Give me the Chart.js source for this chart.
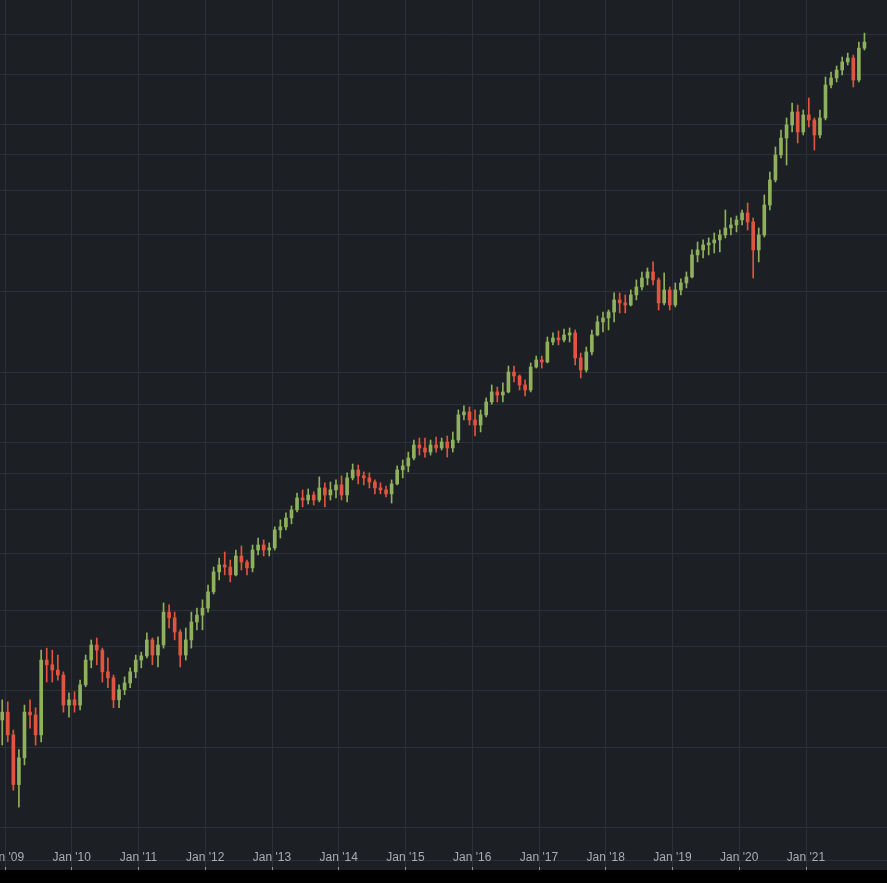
<!DOCTYPE html>
<html>
<head>
<meta charset="utf-8">
<script src="https://cdn.jsdelivr.net/npm/chart.js@4.4.1/dist/chart.umd.min.js"></script>
<style>
    html, body { margin: 0; padding: 0; background: #000; }
    #wrap { width: 887px; height: 870px; background: #1c1f24; }
</style>
</head>
<body>
<div id="wrap"><canvas id="grafico"></canvas></div>
<script>
// monthly candles (log price scale)
const months = ['2008-12',
    '2009-01', '2009-02', '2009-03', '2009-04', '2009-05', '2009-06', '2009-07', '2009-08', '2009-09', '2009-10', '2009-11', '2009-12',
    '2010-01', '2010-02', '2010-03', '2010-04', '2010-05', '2010-06', '2010-07', '2010-08', '2010-09', '2010-10', '2010-11', '2010-12',
    '2011-01', '2011-02', '2011-03', '2011-04', '2011-05', '2011-06', '2011-07', '2011-08', '2011-09', '2011-10', '2011-11', '2011-12',
    '2012-01', '2012-02', '2012-03', '2012-04', '2012-05', '2012-06', '2012-07', '2012-08', '2012-09', '2012-10', '2012-11', '2012-12',
    '2013-01', '2013-02', '2013-03', '2013-04', '2013-05', '2013-06', '2013-07', '2013-08', '2013-09', '2013-10', '2013-11', '2013-12',
    '2014-01', '2014-02', '2014-03', '2014-04', '2014-05', '2014-06', '2014-07', '2014-08', '2014-09', '2014-10', '2014-11', '2014-12',
    '2015-01', '2015-02', '2015-03', '2015-04', '2015-05', '2015-06', '2015-07', '2015-08', '2015-09', '2015-10', '2015-11', '2015-12',
    '2016-01', '2016-02', '2016-03', '2016-04', '2016-05', '2016-06', '2016-07', '2016-08', '2016-09', '2016-10', '2016-11', '2016-12',
    '2017-01', '2017-02', '2017-03', '2017-04', '2017-05', '2017-06', '2017-07', '2017-08', '2017-09', '2017-10', '2017-11', '2017-12',
    '2018-01', '2018-02', '2018-03', '2018-04', '2018-05', '2018-06', '2018-07', '2018-08', '2018-09', '2018-10', '2018-11', '2018-12',
    '2019-01', '2019-02', '2019-03', '2019-04', '2019-05', '2019-06', '2019-07', '2019-08', '2019-09', '2019-10', '2019-11', '2019-12',
    '2020-01', '2020-02', '2020-03', '2020-04', '2020-05', '2020-06', '2020-07', '2020-08', '2020-09', '2020-10', '2020-11', '2020-12',
    '2021-01', '2021-02', '2021-03', '2021-04', '2021-05', '2021-06', '2021-07', '2021-08', '2021-09', '2021-10', '2021-11'];

const opens = [34.5,
    35.9, 32.0, 24.9, 28.5, 35.9, 35.4, 32.0, 46.7, 45.6, 44.4, 43.3, 37.2,
    38.2, 37.2, 41.2, 46.7, 50.4, 49.1, 44.0, 42.7, 38.2, 40.2, 41.6, 44.0,
    46.7, 47.7, 51.7, 47.9, 50.4, 59.5, 57.8, 53.8, 47.9, 51.7, 56.6, 58.6,
    60.7, 65.9, 72.9, 75.5, 74.7, 71.8, 79.0, 76.6, 74.4, 81.4, 83.5, 81.4,
    82.3, 90.1, 91.5, 95.7, 99.7, 105.9, 104.8, 107.5, 104.8, 111.4, 107.5, 110.3,
    113.1, 107.5, 117.2, 122.0, 118.4, 117.2, 114.8, 111.4, 110.3, 108.1, 113.7, 122.0,
    124.5, 129.6, 138.4, 136.3, 133.5, 138.4, 136.3, 140.5, 136.3, 141.9, 161.1, 163.5,
    157.0, 153.1, 161.1, 172.0, 180.9, 178.1, 180.9, 200.0, 196.1, 187.4, 182.7, 205.2,
    212.6, 210.5, 232.8, 237.6, 235.2, 241.2, 243.7, 214.8, 202.1, 221.4, 241.2, 257.6,
    262.8, 270.9, 287.9, 283.6, 280.7, 295.3, 307.4, 321.7, 331.6, 318.5, 283.6, 302.8,
    280.7, 302.8, 313.7, 323.3, 361.4, 370.6, 380.1, 384.0, 389.8, 399.7, 414.1, 420.4,
    431.2, 446.7, 426.9, 370.6, 399.7, 465.1, 527.7, 598.7, 652.3, 696.7, 744.0, 672.5,
    732.8, 714.5, 662.4, 721.8, 852.6, 883.3, 919.7, 957.6, 977.1, 874.4, 1027];

const highs = [38.2,
    37.8, 32.8, 29.7, 37.2, 38.2, 36.7, 49.1, 49.6, 49.1, 47.9, 44.0, 39.6,
    39.8, 42.2, 47.9, 51.7, 52.2, 49.6, 47.2, 43.3, 41.2, 42.9, 44.9, 47.9,
    48.6, 53.6, 52.2, 52.5, 62.3, 61.7, 59.5, 54.4, 54.9, 59.5, 60.7, 63.3,
    68.2, 74.7, 78.2, 80.6, 77.4, 81.4, 83.1, 77.4, 83.5, 86.5, 85.7, 84.4,
    91.5, 94.8, 98.2, 101.7, 108.6, 110.3, 110.8, 109.2, 117.8, 114.3, 114.8, 116.0,
    118.4, 120.2, 125.7, 125.1, 120.8, 120.2, 116.0, 114.3, 112.5, 116.0, 124.5, 128.3,
    133.5, 141.9, 143.3, 143.3, 141.9, 144.0, 143.3, 144.8, 147.8, 165.2, 168.6, 167.7,
    165.2, 165.2, 175.5, 187.4, 185.5, 189.3, 206.2, 206.2, 197.1, 192.2, 209.4, 216.9,
    216.9, 238.8, 243.7, 246.2, 248.6, 249.9, 247.4, 220.2, 227.0, 247.4, 265.5, 270.9,
    273.7, 298.3, 298.3, 295.3, 302.8, 318.5, 331.6, 338.4, 348.8, 321.7, 330.0, 307.4,
    313.7, 320.1, 331.6, 370.6, 385.9, 389.8, 393.8, 403.7, 409.9, 453.5, 435.6, 440.0,
    453.5, 469.8, 435.6, 414.1, 489.2, 549.4, 623.4, 679.3, 721.8, 778.5, 770.7, 751.5,
    798.4, 721.8, 751.5, 887.7, 910.5, 938.5, 982.1, 1002, 991.6, 1059, 1108];

const lows = [30.4,
    30.9, 24.2, 22.2, 27.5, 33.1, 30.4, 30.9, 41.8, 41.8, 42.2, 35.9, 35.0,
    35.9, 36.3, 40.8, 44.9, 45.6, 41.8, 40.6, 36.7, 36.7, 39.2, 40.6, 42.7,
    44.9, 47.2, 45.6, 45.1, 49.6, 54.9, 51.7, 45.1, 46.7, 49.6, 54.4, 54.4,
    59.5, 65.2, 70.0, 71.8, 69.3, 71.4, 73.6, 71.8, 72.9, 79.4, 79.0, 79.0,
    81.4, 86.5, 90.1, 92.9, 98.7, 101.2, 102.7, 102.2, 103.8, 101.2, 104.8, 105.9,
    104.8, 103.8, 116.0, 113.7, 113.1, 111.4, 108.1, 108.1, 106.4, 103.2, 113.1, 117.2,
    120.8, 128.3, 131.5, 130.2, 131.5, 133.5, 134.9, 130.2, 133.5, 140.0, 157.0, 153.1,
    144.8, 147.8, 159.4, 170.0, 172.0, 172.0, 180.0, 190.3, 182.7, 177.2, 180.9, 204.1,
    204.1, 209.4, 229.3, 229.3, 232.8, 232.8, 207.3, 194.1, 200.0, 218.0, 240.0, 244.9,
    247.4, 257.6, 269.6, 269.6, 279.3, 287.9, 302.8, 310.6, 310.6, 273.7, 280.7, 273.7,
    277.9, 295.3, 305.9, 321.7, 348.8, 355.9, 361.4, 365.0, 366.9, 393.8, 399.7, 405.8,
    420.4, 409.9, 321.7, 348.8, 395.7, 453.5, 522.4, 589.7, 569.2, 672.5, 636.1, 662.4,
    689.6, 614.0, 652.3, 714.5, 839.7, 865.6, 896.8, 943.2, 844.0, 865.6, 1017];

const closes = [35.9,
    32.0, 24.9, 28.5, 35.9, 35.4, 32.0, 46.7, 45.6, 44.4, 43.3, 37.2, 38.2,
    37.2, 41.2, 46.7, 50.4, 49.1, 44.0, 42.7, 38.2, 40.2, 41.6, 44.0, 46.7,
    47.7, 51.7, 47.9, 50.4, 59.5, 57.8, 53.8, 47.9, 51.7, 56.6, 58.6, 60.7,
    65.9, 72.9, 75.5, 74.7, 71.8, 79.0, 76.6, 74.4, 81.4, 83.5, 81.4, 82.3,
    90.1, 91.5, 95.7, 99.7, 105.9, 104.8, 107.5, 104.8, 111.4, 107.5, 110.3, 113.1,
    107.5, 117.2, 122.0, 118.4, 117.2, 114.8, 111.4, 110.3, 108.1, 113.7, 122.0, 124.5,
    129.6, 138.4, 136.3, 133.5, 138.4, 136.3, 140.5, 136.3, 141.9, 161.1, 163.5, 157.0,
    153.1, 161.1, 172.0, 180.9, 178.1, 180.9, 200.0, 196.1, 187.4, 182.7, 205.2, 212.6,
    210.5, 232.8, 237.6, 235.2, 241.2, 243.7, 214.8, 202.1, 221.4, 241.2, 257.6, 262.8,
    270.9, 287.9, 283.6, 280.7, 295.3, 307.4, 321.7, 331.6, 318.5, 283.6, 302.8, 280.7,
    302.8, 313.7, 323.3, 361.4, 370.6, 380.1, 384.0, 389.8, 399.7, 414.1, 420.4, 431.2,
    446.7, 426.9, 370.6, 399.7, 465.1, 527.7, 598.7, 652.3, 696.7, 744.0, 672.5, 732.8,
    714.5, 662.4, 721.8, 852.6, 883.3, 919.7, 957.6, 977.1, 874.4, 1027, 1059];

const yearTicks = [2009, 2010, 2011, 2012, 2013, 2014, 2015, 2016, 2017, 2018, 2019, 2020, 2021];
const tickLabels = ["Jan '09", "Jan '10", "Jan '11", "Jan '12", "Jan '13", "Jan '14", "Jan '15",
    "Jan '16", "Jan '17", "Jan '18", "Jan '19", "Jan '20", "Jan '21"];
const gridLevels = [17, 20, 30, 40, 50, 60, 80, 100, 120, 140, 170, 200, 300, 400, 500, 600, 700, 900, 1100];

const upColor = '#8fb05c';
const downColor = '#e0553f';
const gridColor = '#2c3037';

function monthToX(m) {
    const parts = m.split('-').map(Number);
    return parts[0] + (parts[1] - 0.5) / 12;
}

const xs = months.map(monthToX);
const colors = closes.map((c, i) => c >= opens[i] ? upColor : downColor);

// time labels sit inside the pane, just above the bottom edge
const timeLabels = {
    id: 'timeLabels',
    afterDraw(chart) {
        const c = chart.ctx;
        const xScale = chart.scales.x;
        c.save();
        c.font = '12px "Liberation Sans", Arial, sans-serif';
        c.fillStyle = '#a9acb2';
        c.textAlign = 'center';
        c.textBaseline = 'middle';
        yearTicks.forEach((v, i) => {
            c.fillText(tickLabels[i], xScale.getPixelForValue(v), chart.chartArea.bottom - 9);
        });
        c.restore();
    }
};

const ctx = document.getElementById('grafico');

new Chart(ctx, {
    type: 'bar',
    data: {
        datasets: [
            {
                data: xs.map((x, i) => ({ x: x, y: [lows[i], highs[i]] })),
                backgroundColor: colors,
                barThickness: 1,
                grouped: false,
                order: 2
            },
            {
                data: xs.map((x, i) => ({ x: x, y: [opens[i], closes[i]] })),
                backgroundColor: colors,
                barThickness: 3,
                minBarLength: 1,
                grouped: false,
                order: 1
            }
        ]
    },
    options: {
        responsive: true,
        maintainAspectRatio: false,
        animation: false,
        layout: { padding: 0 },
        plugins: {
            legend: { display: false },
            tooltip: { enabled: false }
        },
        scales: {
            x: {
                type: 'linear',
                min: 2008.925,
                max: 2022.213,
                offset: false,
                grid: { color: gridColor, offset: false, drawTicks: true, tickLength: 3, tickColor: '#8e9197' },
                border: { display: false },
                ticks: { display: false },
                afterBuildTicks: scale => {
                    scale.ticks = yearTicks.map(v => ({ value: v }));
                },
                afterFit: scale => {
                    scale.height = 3;
                    scale.paddingLeft = 0;
                    scale.paddingRight = 0;
                }
            },
            y: {
                type: 'logarithmic',
                position: 'right',
                min: 16.42,
                max: 1309.7,
                grid: { color: gridColor, drawTicks: false },
                border: { display: false },
                ticks: { display: false },
                afterBuildTicks: scale => {
                    scale.ticks = gridLevels.map(v => ({ value: v }));
                },
                afterFit: scale => {
                    scale.width = 0;
                    scale.paddingTop = 0;
                    scale.paddingBottom = 0;
                }
            }
        }
    },
    plugins: [timeLabels]
});
</script>
</body>
</html>
